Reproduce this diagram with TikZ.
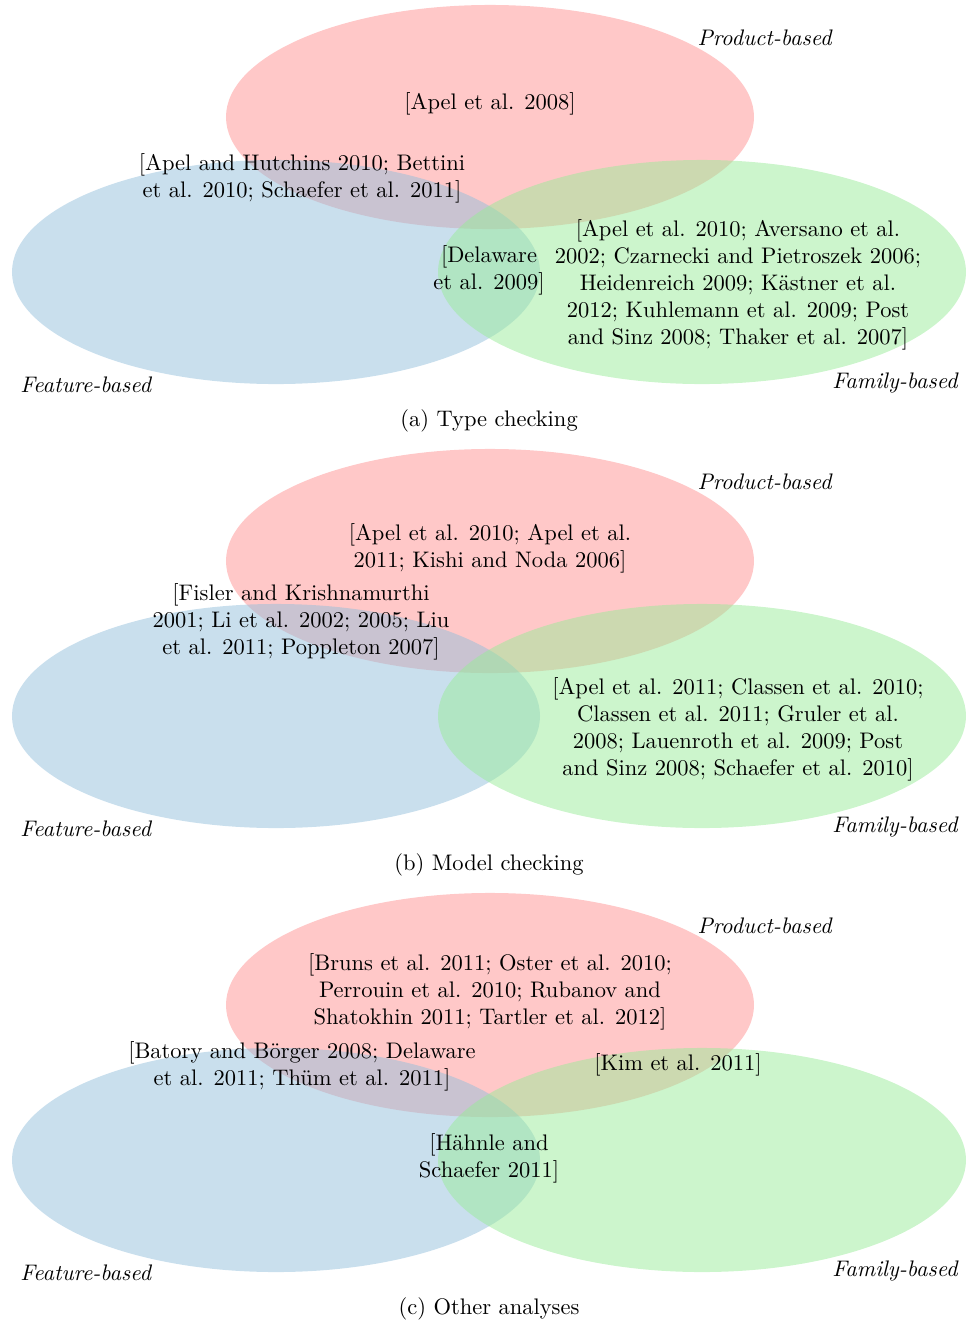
\documentclass[tikz,border=0pt]{standalone}
\usepackage{fontspec}
\begin{document}
\begin{tikzpicture}[x=0.4445pt,y=-0.4445pt,
  setred/.style={fill={rgb,255:red,255;green,145;blue,145}, fill opacity=0.5},
  setblue/.style={fill={rgb,255:red,147;green,191;blue,219}, fill opacity=0.5},
  setgreen/.style={fill={rgb,255:red,153;green,235;blue,153}, fill opacity=0.5},
  cite/.style={align=center, inner sep=0pt, font=\normalsize},
  setlabel/.style={inner sep=0pt, font=\itshape},
  caption/.style={inner sep=0pt}]
\useasboundingbox (0,0) rectangle (966,1321);
% ---------- panel (a)
\fill[setred]   (490,117) ellipse [x radius=117.35pt, y radius=49.8pt];
\fill[setblue]  (276,272) ellipse [x radius=117.35pt, y radius=49.8pt];
\fill[setgreen] (702,272) ellipse [x radius=117.35pt, y radius=49.8pt];
\node[setlabel, anchor=east] (pa) at (832,38) {Product-based};
\node[setlabel, anchor=west] (fa) at (20,385) {Feature-based};
\node[setlabel, anchor=east] (ma) at (958,383) {Family-based};
\node[cite] (a1) at (490,104) {[Apel et al. 2008]};
\node[cite] (a2) at (302,178) {[Apel and Hutchins 2010; Bettini\\et al. 2010; Schaefer et al. 2011]};
\node[cite] (a3) at (489,270) {[Delaware\\et al. 2009]};
\node[cite] (a4) at (738,285) {[Apel et al. 2010; Aversano et al.\\2002; Czarnecki and Pietroszek 2006;\\Heidenreich 2009; Kästner et al.\\2012; Kuhlemann et al. 2009; Post\\and Sinz 2008; Thaker et al. 2007]};
\node[caption] (ca) at (489,421) {(a) Type checking};
% ---------- panel (b)
\fill[setred]   (490,561) ellipse [x radius=117.35pt, y radius=49.8pt];
\fill[setblue]  (276,716) ellipse [x radius=117.35pt, y radius=49.8pt];
\fill[setgreen] (702,716) ellipse [x radius=117.35pt, y radius=49.8pt];
\node[setlabel, anchor=east] (pb) at (832,482) {Product-based};
\node[setlabel, anchor=west] (fb) at (20,829) {Feature-based};
\node[setlabel, anchor=east] (mb) at (958,827) {Family-based};
\node[cite] (b1) at (490,548) {[Apel et al. 2010; Apel et al.\\2011; Kishi and Noda 2006]};
\node[cite] (b2) at (301,622) {[Fisler and Krishnamurthi\\2001; Li et al. 2002; 2005; Liu\\et al. 2011; Poppleton 2007]};
\node[cite] (b3) at (738,729) {[Apel et al. 2011; Classen et al. 2010;\\Classen et al. 2011; Gruler et al.\\2008; Lauenroth et al. 2009; Post\\and Sinz 2008; Schaefer et al. 2010]};
\node[caption] (cb) at (489,865) {(b) Model checking};
% ---------- panel (c)
\fill[setred]   (490,1005) ellipse [x radius=117.35pt, y radius=49.8pt];
\fill[setblue]  (276,1160) ellipse [x radius=117.35pt, y radius=49.8pt];
\fill[setgreen] (702,1160) ellipse [x radius=117.35pt, y radius=49.8pt];
\node[setlabel, anchor=east] (pc) at (832,926) {Product-based};
\node[setlabel, anchor=west] (fc) at (20,1273) {Feature-based};
\node[setlabel, anchor=east] (mc) at (958,1271) {Family-based};
\node[cite] (c1) at (490,992) {[Bruns et al. 2011; Oster et al. 2010;\\Perrouin et al. 2010; Rubanov and\\Shatokhin 2011; Tartler et al. 2012]};
\node[cite] (c2) at (302,1066) {[Batory and Börger 2008; Delaware\\et al. 2011; Thüm et al. 2011]};
\node[cite] (c3) at (678,1065) {[Kim et al. 2011]};
\node[cite] (c4) at (489,1158) {[Hähnle and\\Schaefer 2011]};
\node[caption] (cc) at (489,1309) {(c) Other analyses};
\end{tikzpicture}
\end{document}
